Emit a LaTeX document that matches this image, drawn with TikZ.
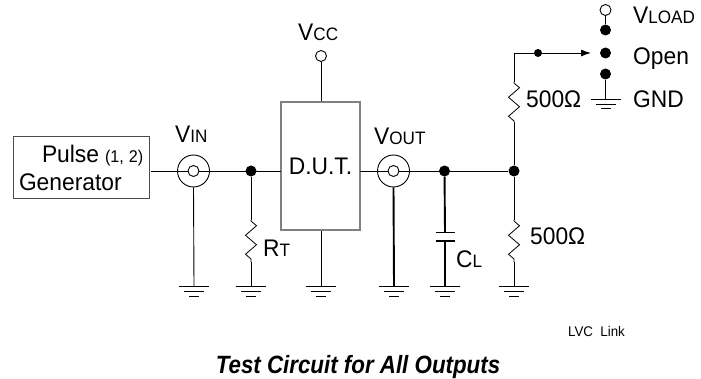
\documentclass[tikz,border=0pt]{standalone}
\usepackage{fontspec}
\setmainfont[FakeStretch=0.95]{Liberation Sans}
\usetikzlibrary{arrows.meta, decorations.pathmorphing}
\newcommand{\lab}{\fontsize{24}{29}\selectfont}
\newcommand{\sublab}{\fontsize{18}{20}\selectfont}
\tikzset{
    wire/.style={line width=0.9pt},
    wirethick/.style={line width=1.9pt},
    ring/.style={circle, draw, line width=0.9pt, inner sep=0pt, minimum size=#1, fill=white},
    blob/.style={circle, fill=black, inner sep=0pt, minimum size=#1},
    txt/.style={inner sep=0pt, font=\lab, anchor=base west},
    resistor/.style={line width=0.8pt, decorate, decoration={zigzag, amplitude=5.5pt, segment length=19pt, pre length=1pt, post length=1pt}},
    earth/.pic={
        \draw [line width=0.9pt] (-15, 0) -- (15, 0);
        \draw [line width=0.9pt] (-10, 5) -- (10, 5);
        \draw [line width=1pt] (-5, 10) -- (5, 10);
    }
}
\begin{document}
\begin{tikzpicture}[x=1pt, y=-1pt]
    \useasboundingbox (0, 0) rectangle (701, 379);
    % Boxes
    \node [draw=black!70, line width=1pt, minimum width=136pt, minimum height=62pt, inner sep=0pt, font=\lab, align=left, text width=136pt] (pulse) at (81, 168)
        {\mbox{\hspace*{29pt}Pulse\hspace{6pt}{\fontsize{17}{20}\selectfont (1,\hspace{5pt}2)}}\\[-1pt]\hspace*{6pt}Generator};
    \node [draw=black!50, line width=1.6pt, minimum width=79pt, minimum height=128pt, inner sep=0pt, font=\lab] (dut) at (320.5, 166) {D.U.T.};
    % Points
    \coordinate (vinfoot) at (194, 286);
    \coordinate (rtfoot) at (251, 286);
    \coordinate (dutfoot) at (321, 286);
    \coordinate (voutfoot) at (394, 286);
    \coordinate (clfoot) at (445, 286);
    \coordinate (rlfoot) at (514, 286);
    \coordinate (gndfoot) at (606, 99);
    \coordinate (rttop) at (251, 220);
    \coordinate (rtbot) at (251, 262);
    \coordinate (rltop) at (514, 220);
    \coordinate (rlbot) at (514, 262);
    \coordinate (rutop) at (514, 82);
    \coordinate (rubot) at (514, 122);
    \coordinate (corner) at (514, 53);
    \coordinate (tip) at (591, 53);
    \coordinate (pulseout) at (151, 171);
    \coordinate (dutin) at (281, 171);
    \coordinate (dutout) at (360, 171);
    \coordinate (capup) at (445, 232);
    \coordinate (capdown) at (445, 241);
    % Coax rings
    \node [ring=32pt] (vin) at (193.5, 171) {};
    \node [ring=32pt] (vout) at (393.5, 171) {};
    % Dots
    \node [blob=11pt] (rtdot) at (251, 171) {};
    \node [blob=11pt] (cldot) at (444.5, 171) {};
    \node [blob=11pt] (rldot) at (514, 171) {};
    \node [blob=8pt] (armdot) at (538, 53) {};
    \node [blob=11pt] (loaddot) at (605.5, 30) {};
    \node [blob=11pt] (opendot) at (605.5, 53) {};
    \node [blob=11pt] (gnddot) at (605.5, 74) {};
    % Terminals
    \node [ring=11pt] (vcc) at (321, 56) {};
    \node [ring=11pt] (vload) at (605.5, 10) {};
    % Wires
    \draw [wire] (pulseout) -- (dutin);
    \draw [wire] (dutout) -- (rldot);
    \draw [wire] (vin.south) -- (vinfoot);
    \draw [wire] (rtdot) -- (rttop);
    \draw [wire] (rtbot) -- (rtfoot);
    \draw [wire] (vcc) -- (vcc |- dut.north);
    \draw [wire] (dutfoot |- dut.south) -- (dutfoot);
    \draw [wire] (rldot) -- (rltop);
    \draw [wire] (rlbot) -- (rlfoot);
    \draw [wire] (rldot) -- (rubot);
    \draw [wire] (rutop) -- (corner);
    \draw [wire, -{Latex[length=10pt, width=7pt]}] (corner) -- (tip);
    \draw [wire] (vload) -- (loaddot);
    \draw [wire] (gnddot) -- (gnddot |- gndfoot);
    \draw [wirethick] (vout.south) -- (voutfoot);
    \draw [wirethick] (cldot) -- (capup);
    \draw [wirethick] (capdown) -- (clfoot);
    % Inner rings
    \node [ring=11pt] (vininner) at (vin) {};
    \node [ring=11pt] (voutinner) at (vout) {};
    % Capacitor
    \draw [wire] ([xshift=-9.5pt]capup) -- ([xshift=9.5pt]capup);
    \draw [wirethick] ([xshift=-9.5pt]capdown) -- ([xshift=9.5pt]capdown);
    % Resistors
    \draw [resistor] (rttop) -- (rtbot);
    \draw [resistor] (rltop) -- (rlbot);
    \draw [resistor] (rutop) -- (rubot);
    % Grounds
    \pic at (vinfoot) {earth};
    \pic at (rtfoot) {earth};
    \pic at (dutfoot) {earth};
    \pic at (voutfoot) {earth};
    \pic at (clfoot) {earth};
    \pic at (rlfoot) {earth};
    \pic at (gndfoot) {earth};
    % Labels
    \node [txt] (vcclabel) at (298, 41) {V{\sublab CC}};
    \node [txt] (vinlabel) at (175, 143) {V{\sublab IN}};
    \node [txt] (voutlabel) at (374, 145) {V{\sublab OUT}};
    \node [txt] (rtlabel) at (263, 257) {R{\sublab T}};
    \node [txt] (cllabel) at (456, 268) {C{\sublab L}};
    \node [txt] (rulabel) at (526, 108) {500Ω};
    \node [txt] (rllabel) at (530, 245) {500Ω};
    \node [txt] (vloadlabel) at (633, 24) {V{\sublab LOAD}};
    \node [txt] (openlabel) at (633, 65) {Open};
    \node [txt] (gndlabel) at (633, 108) {GND};
    \node [txt, font=\fontsize{14}{16}\selectfont] (linklabel) at (568, 336) {LVC\ \ Link};
    \node [txt, font=\fontsize{25}{27}\selectfont\bfseries\itshape, anchor=base] (title) at (358, 373) {\scalebox{0.94}[1]{Test Circuit for All Outputs}};
\end{tikzpicture}
\end{document}
